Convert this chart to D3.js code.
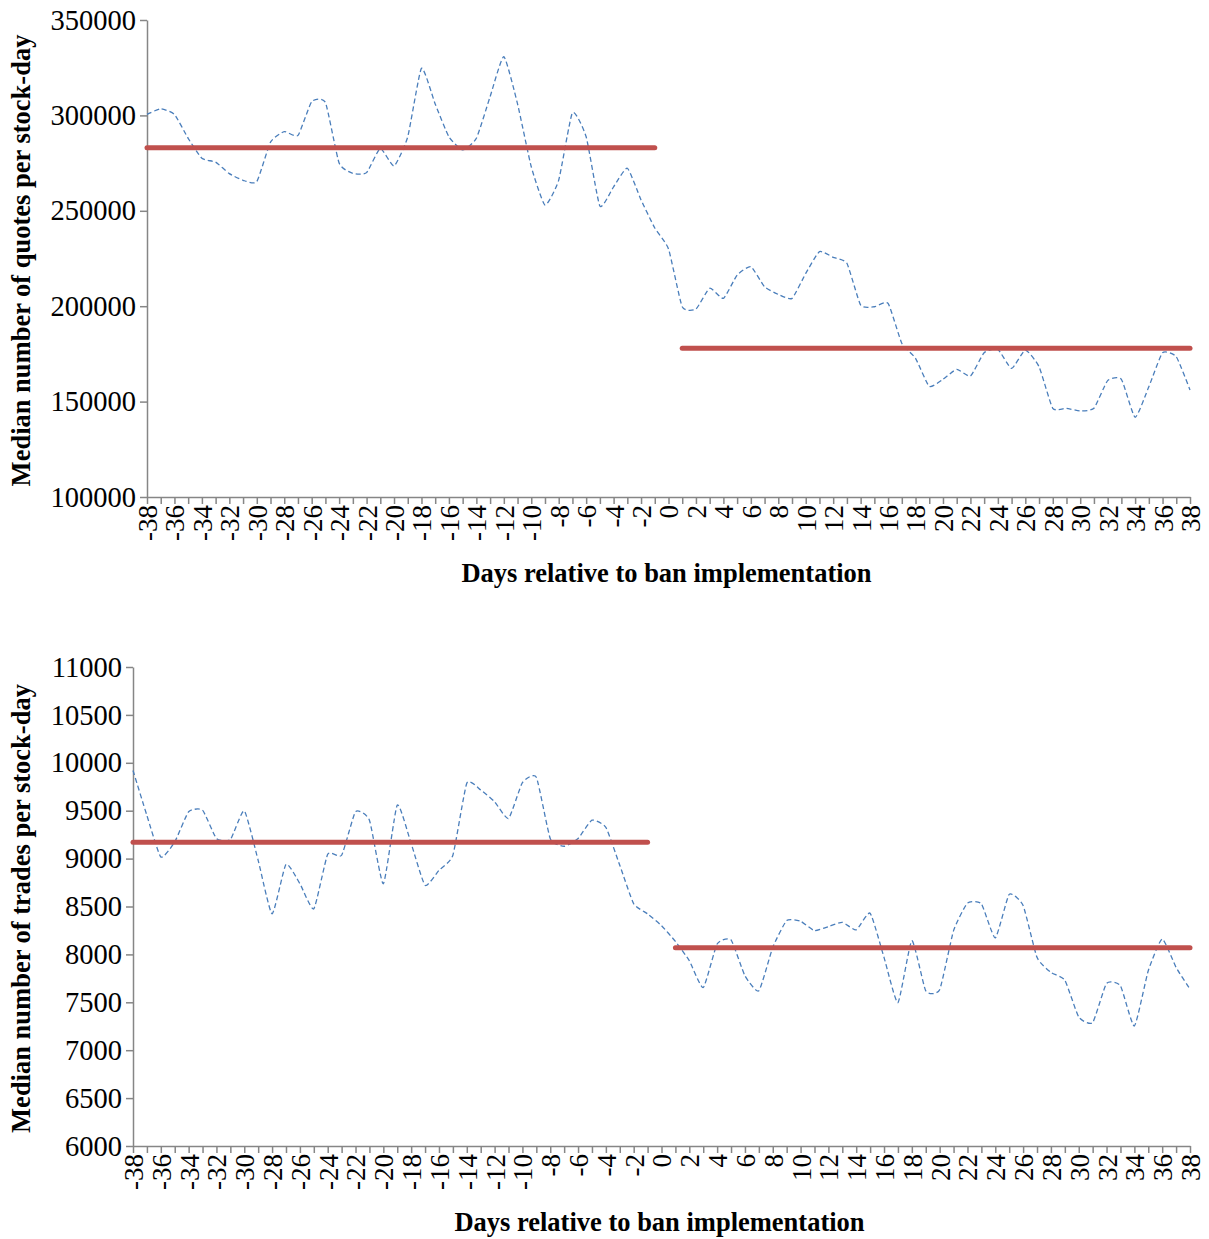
<!DOCTYPE html>
<html>
<head>
<meta charset="utf-8">
<script src="https://cdn.jsdelivr.net/npm/d3@7"></script>
<style>
  html, body { margin: 0; padding: 0; background: #fff; }
  svg { display: block; }
  svg text { font-family: "Liberation Serif", "Times New Roman", serif !important; fill: #000; }
</style>
</head>
<body>
<svg id="chart" width="1209" height="1239"></svg>
<script>
const days = [-38,-37,-36,-35,-34,-33,-32,-31,-30,-29,-28,-27,-26,-25,-24,-23,-22,-21,-20,-19,
  -18,-17,-16,-15,-14,-13,-12,-11,-10,-9,-8,-7,-6,-5,-4,-3,-2,-1,0,
  1,2,3,4,5,6,7,8,9,10,11,12,13,14,15,16,17,18,19,20,21,22,23,24,25,26,27,28,29,30,31,32,33,34,35,36,37,38];

const quotes = [300500,303500,300500,288000,277500,275500,269500,266000,265300,286000,
  291500,289500,307200,306800,275000,269600,270000,282700,273500,288800,
  324700,306000,288800,281900,288000,309800,330800,306000,273100,253000,
  266100,301400,288800,252500,262600,272300,255700,241000,230000,
  199700,198500,209400,204100,216300,220700,210200,206200,204100,217200,
  228600,225600,222500,200600,199700,201500,180600,172700,158000,161700,
  166900,163400,175600,177400,167400,177000,168300,146500,146500,145100,
  146500,161000,161700,141800,157800,175600,173500,156100];

const trades = [9920,9450,9017,9174,9489,9506,9210,9199,9499,8982,
  8423,8940,8738,8476,9045,9035,9489,9401,8738,9559,
  9157,8721,8878,9035,9786,9716,9593,9419,9793,9849,
  9210,9129,9210,9401,9325,8930,8529,8423,8300,
  8135,7934,7654,8109,8151,7777,7620,8073,8353,8346,
  8248,8290,8335,8256,8430,7969,7497,8144,7620,7632,
  8248,8535,8528,8172,8626,8510,7969,7812,7731,7347,
  7288,7697,7672,7253,7830,8161,7864,7637];

// Mean levels: [startDay, endDay, value]
const quotesMeans = [[-38, -1, 283000], [1, 38, 178000]];
const tradesMeans = [[-38, -1, 9170], [1, 38, 8070]];

const quotesTicks = [100000,150000,200000,250000,300000,350000];
const tradesTicks = [6000,6500,7000,7500,8000,8500,9000,9500,10000,10500,11000];

const xTitle = "Days relative to ban implementation";
const quotesTitle = "Median number of quotes per stock-day";
const tradesTitle = "Median number of trades per stock-day";

const svg = d3.select("#chart");
svg.append("rect").attr("width", 1209).attr("height", 1239).attr("fill", "#fff");

const AXIS = "#868686";
const SERIF = '"Liberation Serif", "Times New Roman", serif';

function drawPanel(cfg) {
  const g = svg.append("g");
  const x = d3.scalePoint().domain(days).range([cfg.left, cfg.right]);
  const y = d3.scaleLinear().domain([cfg.ticks[0], cfg.ticks[cfg.ticks.length-1]]).range([cfg.bottom, cfg.top]);

  // Y axis
  const ya = g.append("g").attr("transform", `translate(${cfg.left},0)`)
    .call(d3.axisLeft(y).tickValues(cfg.ticks).tickSize(7).tickSizeOuter(0).tickPadding(4).tickFormat(d3.format("d")));
  ya.attr("font-family", SERIF).attr("font-size", null);
  ya.select(".domain").attr("stroke", AXIS).attr("stroke-width", 1.5);
  ya.selectAll(".tick line").attr("stroke", AXIS).attr("stroke-width", 1.5);
  ya.selectAll("text").style("font-size", "28.5px").style("font-family", SERIF);

  // X axis
  const xa = g.append("g").attr("transform", `translate(0,${cfg.bottom})`)
    .call(d3.axisBottom(x).tickSize(7).tickSizeOuter(0).tickFormat(d => (Math.abs(d) % 2 === 0) ? String(d) : ""));
  xa.attr("font-family", SERIF).attr("font-size", null);
  xa.select(".domain").attr("stroke", AXIS).attr("stroke-width", 1.5);
  xa.selectAll(".tick line").attr("stroke", AXIS).attr("stroke-width", 1.5);
  xa.selectAll("text")
    .style("font-size", "27px").style("font-family", SERIF)
    .attr("transform", "rotate(-90)")
    .attr("text-anchor", "end")
    .attr("x", -8).attr("y", 0).attr("dy", "0.35em");

  // Data line
  const line = d3.line()
    .x((d, i) => x(days[i]))
    .y(d => y(d))
    .curve(d3.curveCardinal.tension(0.5));
  g.append("path").datum(cfg.values)
    .attr("d", line)
    .attr("fill", "none")
    .attr("stroke", "#4a7ebb")
    .attr("stroke-width", 1.3)
    .attr("stroke-dasharray", "5,3");

  // Mean lines
  g.selectAll(".mean").data(cfg.means).enter().append("line")
    .attr("x1", d => x(d[0])).attr("x2", d => x(d[1]))
    .attr("y1", d => y(d[2])).attr("y2", d => y(d[2]))
    .attr("stroke", "#c0504d").attr("stroke-width", 5).attr("stroke-linecap", "round");

  // Titles
  g.append("text")
    .attr("x", (cfg.left + cfg.right) / 2 - 2).attr("y", cfg.xTitleY)
    .attr("text-anchor", "middle")
    .style("font-size", "26.5px").style("font-weight", "bold").style("font-family", SERIF)
    .text(xTitle);
  g.append("text")
    .attr("transform", `translate(${cfg.yTitleX},${(cfg.top + cfg.bottom) / 2 + 2}) rotate(-90)`)
    .attr("text-anchor", "middle")
    .style("font-size", "26.5px").style("font-weight", "bold").style("font-family", SERIF)
    .text(cfg.yTitle);
}

drawPanel({left: 147, right: 1190, top: 20, bottom: 497, ticks: quotesTicks, values: quotes,
  means: quotesMeans, xTitleY: 582, yTitleX: 30, yTitle: quotesTitle});
drawPanel({left: 133, right: 1190, top: 667, bottom: 1146, ticks: tradesTicks, values: trades,
  means: tradesMeans, xTitleY: 1231, yTitleX: 30, yTitle: tradesTitle});
</script>
</body>
</html>
